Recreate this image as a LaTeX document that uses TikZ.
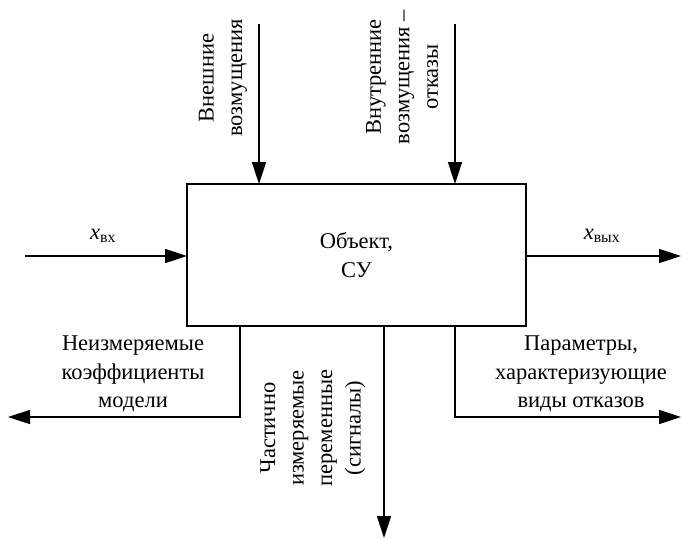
\documentclass[tikz,border=0pt]{standalone}
\usepackage{fontspec}
\setmainfont{Liberation Serif}
\usetikzlibrary{arrows,arrows.meta}
\usetikzlibrary{calc}
\tikzset{>={Triangle[length=22pt,width=14pt]}}
\tikzstyle{flow} = [%
					line width = 1.6pt,
					->]
\tikzstyle{txt} = [%
					align = center,
					inner sep = 0pt,
					font = \fontsize{22.5}{28.5}\selectfont]
\tikzstyle{vtxt} = [%
					txt,
					rotate = 90]

\begin{document}
\begin{tikzpicture}[x=1pt,y=-1pt,line width=1.6pt]
	\useasboundingbox (0,0) rectangle (683,539);

	% Object
	\node[draw, minimum width=339pt, minimum height=142pt, inner sep=0pt, outer sep=0pt, txt] at (356.5,255) (obj) {Объект,\\СУ};

	% Coordinates
	\coordinate (ext)  at (259,24);
	\coordinate (int)  at (455,24);
	\coordinate (xin)  at (25,256);
	\coordinate (xout) at (681,256);
	\coordinate (b1)   at (240,417);
	\coordinate (k1)   at (8,417);
	\coordinate (b2)   at (384,538);
	\coordinate (b3)   at (455,417);
	\coordinate (k3)   at (681,417);

	% Labels
	\node[vtxt] at (223,78) (lext) {Внешние\\возмущения};
	\node[vtxt] at (402,77) (lint) {Внутренние\\возмущения –\\отказы};
	\node[txt] at (103,236) (lxin) {\textit{x}\textsubscript{вх}};
	\node[txt] at (602,236) (lxout) {\textit{x}\textsubscript{вых}};
	\node[txt] at (133,374) (lcoef) {Неизмеряемые\\коэффициенты\\модели};
	\node[vtxt] at (313,428) (lsig) {Частично\\измеряемые\\переменные\\(сигналы)};
	\node[txt] at (581,374) (lpar) {Параметры,\\характеризующие\\виды отказов};

	% Arrows
	\draw[flow] (ext) -- (ext |- obj.north);
	\draw[flow] (int) -- (int |- obj.north);
	\draw[flow] (xin) -- (xin -| obj.west);
	\draw[flow] (xout -| obj.east) -- (xout);
	\draw[flow] (b1 |- obj.south) -- (b1) -- (k1);
	\draw[flow] (b2 |- obj.south) -- (b2);
	\draw[flow] (b3 |- obj.south) -- (b3) -- (k3);
\end{tikzpicture}
\end{document}
